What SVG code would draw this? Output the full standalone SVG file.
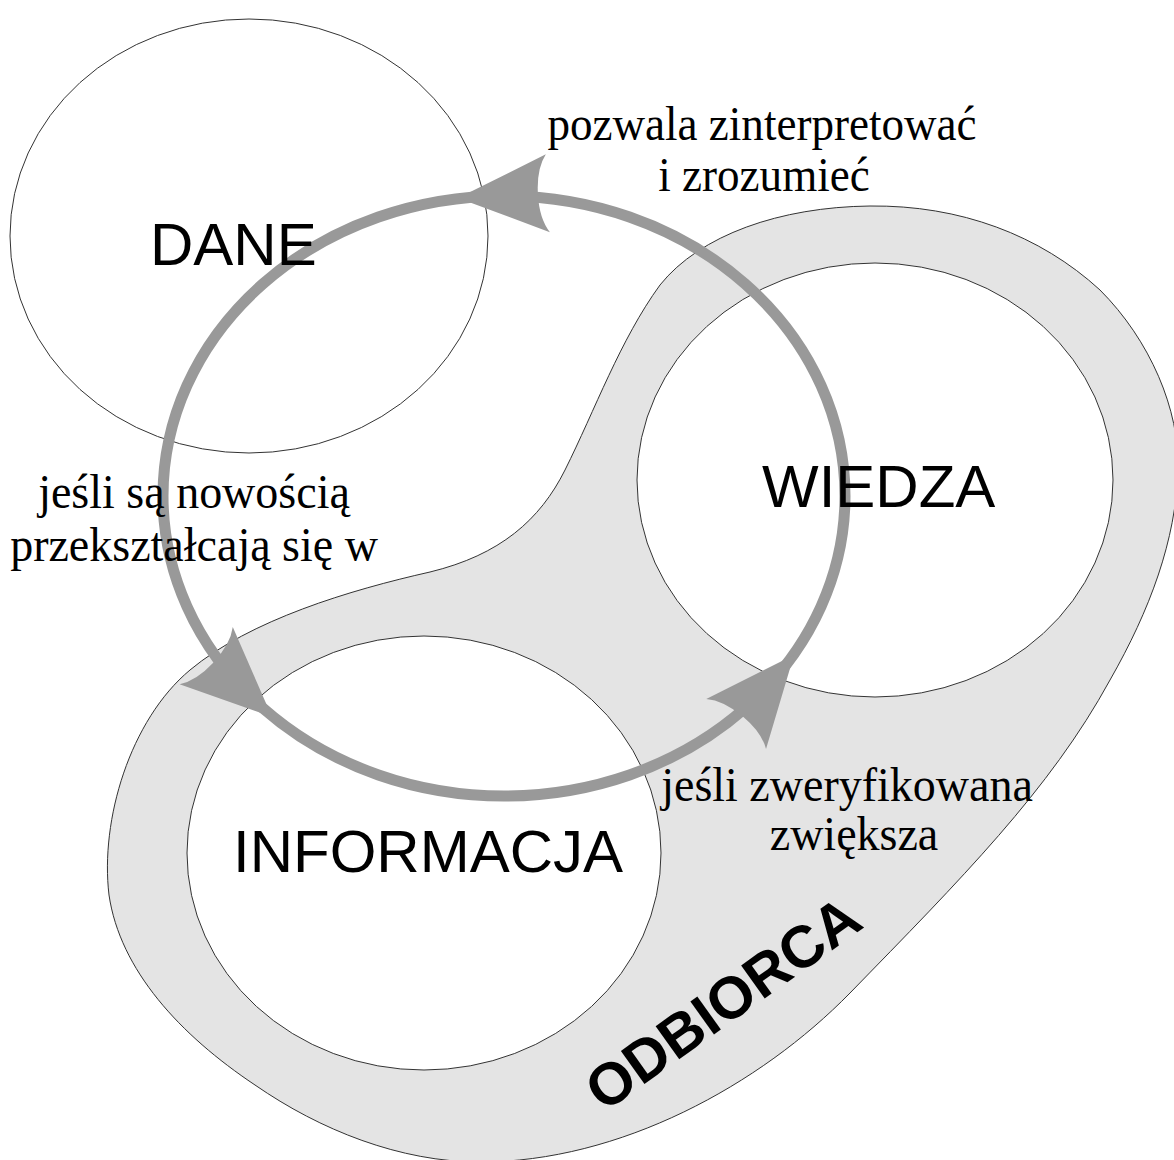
<svg xmlns="http://www.w3.org/2000/svg" width="1174" height="1160" viewBox="0 0 1174 1160">
<style>
.circ{fill:#ffffff;stroke:#333333;stroke-width:1}
.blob{fill:#e4e4e4;stroke:#333333;stroke-width:1}
.ring{fill:none;stroke:#999999;stroke-width:11}
.head{fill:#999999;stroke:none}
.big{font-family:"Liberation Sans",Arial,sans-serif;font-size:60px;fill:#000000}
.lab{font-family:"Liberation Serif","Times New Roman",serif;font-size:46px;fill:#000000;text-anchor:middle}
.odb{font-family:"Liberation Sans",Arial,sans-serif;font-size:59px;font-weight:bold;fill:#000000}
</style>
<defs>
<path id="ah" d="M0,0 L-90,-39 Q-80,-25 -80,0 Q-80,25 -90,39 Z"/>
</defs>
<g id="odbiorca">
<path class="blob" d="M870,206 C960,205 1040,235 1100,290 C1150,340 1180,410 1178,470 C1176,540 1150,610 1110,680 C1050,790 960,880 850,993 C760,1085 620,1162 480,1162 C400,1162 320,1130 255,1085 C180,1035 120,970 109,895 C100,820 130,720 190,670 C250,620 350,590 430,572 C500,555 540,520 565,470 C595,410 620,340 660,285 C700,235 780,207 870,206 Z"/>
</g>
<g id="dane"><ellipse class="circ" cx="249" cy="236" rx="239" ry="217"/></g>
<g id="wiedza"><ellipse class="circ" cx="875" cy="480" rx="238" ry="217"/></g>
<g id="informacja"><ellipse class="circ" cx="424" cy="853" rx="237" ry="217"/></g>
<g id="connectors">
<ellipse class="ring" cx="504" cy="496" rx="341" ry="300"/>
<use href="#ah" class="head" transform="translate(458,198) rotate(177)"/>
<use href="#ah" class="head" transform="translate(272,717) rotate(43)"/>
<use href="#ah" class="head" transform="translate(794,655) rotate(-50)"/>
</g>
<g id="labels">
<text class="big" x="150" y="265">DANE</text>
<text class="big" x="762" y="507">WIEDZA</text>
<text class="big" x="233" y="872">INFORMACJA</text>
<text class="lab" transform="translate(762,140) scale(0.98,1.06)">pozwala zinterpretować</text>
<text class="lab" transform="translate(764,191) scale(0.98,1.06)">i zrozumieć</text>
<text class="lab" transform="translate(194,508) scale(1,1.06)">jeśli są nowością</text>
<text class="lab" transform="translate(194,561) scale(1,1.06)">przekształcają się w</text>
<text class="lab" transform="translate(847,801) scale(1,1.06)">jeśli zweryfikowana</text>
<text class="lab" transform="translate(854,850) scale(1,1.06)">zwiększa</text>
<text class="odb" transform="translate(604,1113) rotate(-35.5)">ODBIORCA</text>
</g>
</svg>
